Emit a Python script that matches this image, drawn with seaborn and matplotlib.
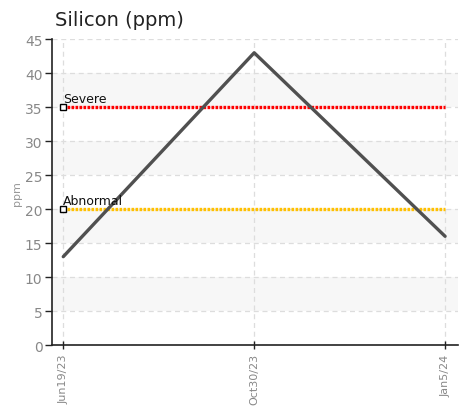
import numpy as np
import pandas as pd
import seaborn as sns
import matplotlib.pyplot as plt

dates = ['Jun19/23', 'Oct30/23', 'Jan5/24']
silicon = [13, 43, 16]
limit_names = ['Severe', 'Abnormal']
limit_values = [35, 20]
limit_colors = ['#ff0000', '#ffc000']

sns.set_style('white')
plt.rcParams['font.family'] = ['DejaVu Sans']

df = pd.DataFrame({'date': dates, 'ppm': silicon})
df['pos'] = np.arange(len(dates))

fig = plt.figure(figsize=(4.66, 4.10), dpi=100)
ax = fig.add_axes([0.112, 0.156, 0.871, 0.746])

# alternating bands
for lo in range(5, 45, 10):
    ax.axhspan(lo, lo + 5, color='#f7f7f7', zorder=0, lw=0)

for name, val, col in zip(limit_names, limit_values, limit_colors):
    ax.plot([0, 2], [val, val], color=col, lw=2.4, ls=(0, (0.8, 0.4)), zorder=2)
    ax.plot([0], [val], marker='s', ms=4, mfc='white', mec='black', mew=1, zorder=4)
    ax.text(0, val + 0.3, name, fontsize=9, color='#111111',
            ha='left', va='bottom', zorder=5)

sns.lineplot(data=df, x='pos', y='ppm', ax=ax, color='#505050', lw=2.4, zorder=3)

ax.set_xlim(-0.058, 2.068)
ax.set_ylim(0, 45)
ax.set_yticks(range(0, 46, 5))
ax.set_xticks(df['pos'])
ax.set_xticklabels(dates, rotation=90)
ax.grid(True, color='#dddddd', ls=(0, (4, 3)), lw=0.9)
ax.set_axisbelow(True)

for s in ['top', 'right']:
    ax.spines[s].set_visible(False)
for s in ['left', 'bottom']:
    ax.spines[s].set_color('#222222')
    ax.spines[s].set_linewidth(1.2)

ax.tick_params(axis='y', direction='out', length=5, width=1, color='#222222',
               labelsize=10, labelcolor='#888888', pad=2, left=True)
ax.tick_params(axis='x', direction='inout', length=6, width=1, color='#222222',
               labelsize=8, labelcolor='#888888', pad=3, bottom=True)

ax.set_xlabel('')
ax.set_ylabel('ppm', fontsize=8, color='#999999', labelpad=2)
fig.text(0.118, 0.937, 'Silicon (ppm)', fontsize=14, color='#222222', ha='left', va='baseline')

fig.savefig('out.png', dpi=100)
